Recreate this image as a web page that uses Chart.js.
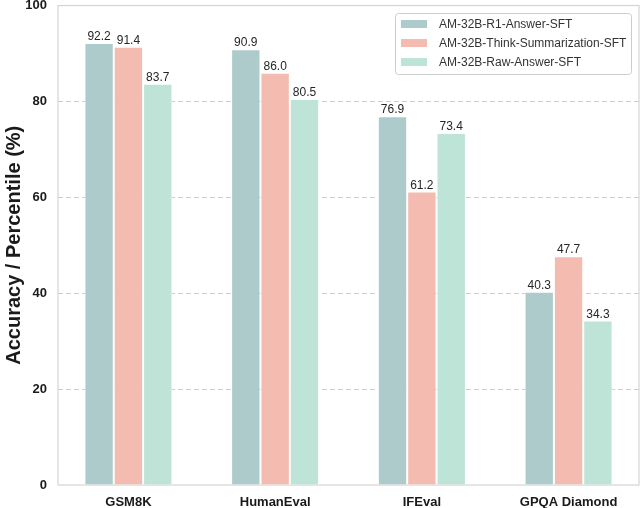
<!DOCTYPE html>
<html><head><meta charset="utf-8">
<script src="https://cdn.jsdelivr.net/npm/chart.js@4"></script>
<style>html,body{margin:0;padding:0;background:#fff}#wrap{width:640px;height:508px}</style>
</head><body><div id="wrap"><canvas id="c" width="640" height="508"></canvas></div>
<script>
const categories = ['GSM8K', 'HumanEval', 'IFEval', 'GPQA Diamond'];
const seriesNames = ['AM-32B-R1-Answer-SFT', 'AM-32B-Think-Summarization-SFT', 'AM-32B-Raw-Answer-SFT'];
const r1Answer = [92.2, 90.9, 76.9, 40.3];
const thinkSumm = [91.4, 86.0, 61.2, 47.7];
const rawAnswer = [83.7, 80.5, 73.4, 34.3];
const yTicks = [0, 20, 40, 60, 80, 100];
const colors = ['#accbca', '#f4bbb0', '#bde4d6'];

const FONT = "'Liberation Sans', Arial, sans-serif";
const seriesVals = [r1Answer, thinkSumm, rawAnswer];

const datasets = seriesVals.map((vals, s) => ({
  label: seriesNames[s],
  data: vals.map((v, i) => ({x: i, y: v})),
  backgroundColor: colors[s],
  borderColor: '#ffffff',
  borderWidth: {top: 1, left: 1, right: 1, bottom: 0},
  borderSkipped: false,
  categoryPercentage: 0.6,
  barPercentage: 1.0
}));

const valueLabels = {
  id: 'valueLabels',
  afterDatasetsDraw(chart) {
    const ctx = chart.ctx;
    ctx.save();
    ctx.font = '12px ' + FONT;
    ctx.fillStyle = '#262626';
    ctx.textAlign = 'center';
    ctx.textBaseline = 'alphabetic';
    chart.data.datasets.forEach((ds, di) => {
      chart.getDatasetMeta(di).data.forEach((el, i) => {
        ctx.fillText(ds.data[i].y.toFixed(1), el.x, el.y - 3);
      });
    });
    ctx.restore();
  }
};

const frame = {
  id: 'frame',
  beforeDatasetsDraw(chart) {
    const {ctx, chartArea: a} = chart;
    ctx.save();
    ctx.strokeStyle = '#d4d4d4';
    ctx.lineWidth = 1.2;
    ctx.strokeRect(a.left, a.top, a.right - a.left, a.bottom - a.top);
    ctx.restore();
  }
};

const legendBox = {
  id: 'legendBox',
  afterDraw(chart) {
    const ctx = chart.ctx;
    const x0 = 395, y0 = 13, w = 236, h = 61;
    ctx.save();
    ctx.fillStyle = 'rgba(255,255,255,0.85)';
    ctx.strokeStyle = '#cccccc';
    ctx.lineWidth = 1;
    ctx.beginPath();
    ctx.roundRect(x0 + 0.5, y0 + 0.5, w, h, 3);
    ctx.fill();
    ctx.stroke();
    ctx.font = '12px ' + FONT;
    ctx.textBaseline = 'middle';
    ctx.textAlign = 'left';
    chart.data.datasets.forEach((ds, i) => {
      const cy = 24 + i * 19;
      ctx.fillStyle = ds.backgroundColor;
      ctx.fillRect(401, cy - 4, 26, 8);
      ctx.fillStyle = '#333333';
      ctx.fillText(ds.label, 439, cy + 0.5);
    });
    ctx.restore();
  }
};

new Chart(document.getElementById('c'), {
  type: 'bar',
  data: {datasets},
  options: {
    responsive: false,
    animation: false,
    devicePixelRatio: 1,
    layout: {padding: {top: 0, right: 1, left: 0, bottom: 0}},
    plugins: {legend: {display: false}, tooltip: {enabled: false}},
    scales: {
      x: {
        type: 'linear',
        min: -0.48, max: 3.48,
        offset: false,
        afterBuildTicks: (s) => { s.ticks = categories.map((c, i) => ({value: i})); },
        afterFit: (s) => { s.height = 23; },
        grid: {display: false, drawTicks: false},
        border: {display: false},
        ticks: {
          autoSkip: false, maxRotation: 0, padding: 10,
          color: '#1a1a1a',
          font: {family: FONT, size: 13, weight: 'bold'},
          callback: (v) => categories[v]
        }
      },
      y: {
        min: 0, max: 100,
        afterBuildTicks: (s) => { s.ticks = yTicks.map(v => ({value: v})); },
        afterFit: (s) => { s.width = 58; },
        grid: {
          drawTicks: true,
          tickLength: 11,
          tickColor: 'rgba(0,0,0,0)',
          color: (c) => (c.tick && (c.tick.value === 0 || c.tick.value === 100)) ? 'rgba(0,0,0,0)' : '#cccccc',
          lineWidth: 1
        },
        border: {display: false, dash: [5, 3]},
        ticks: {
          padding: 0,
          color: '#1a1a1a',
          font: {family: FONT, size: 13, weight: 'bold', lineHeight: 0.85}
        },
        title: {
          display: true,
          text: 'Accuracy / Percentile (%)',
          color: '#1a1a1a',
          font: {family: FONT, size: 20, weight: 'bold'},
          padding: {top: 2, bottom: 0}
        }
      }
    }
  },
  plugins: [frame, valueLabels, legendBox]
});
</script></body></html>
